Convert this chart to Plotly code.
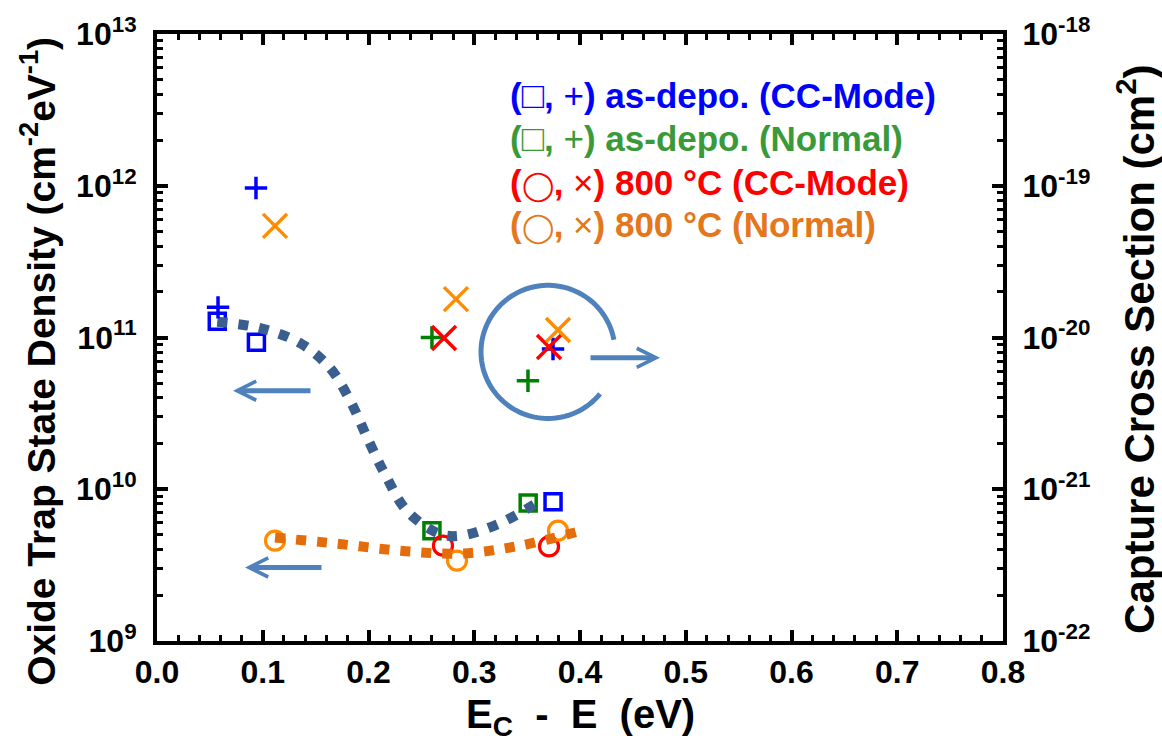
import numpy as np
import plotly.graph_objects as go

# ---------------- data ----------------
# Oxide trap state density (left axis, cm^-2 eV^-1)
sq_cc_x = [0.057, 0.094, 0.3745]
sq_cc_y = [1.28e11, 9.3e10, 8.26e9]
sq_nm_x = [0.260, 0.351]
sq_nm_y = [5.33e9, 8.13e9]
ci_cc_x = [0.2704, 0.3707]
ci_cc_y = [4.25e9, 4.2e9]
ci_nm_x = [0.1116, 0.2837, 0.3792]
ci_nm_y = [4.58e9, 3.39e9, 5.33e9]

# Capture cross section (right axis, cm^2)
pl_cc_x = [0.0577, 0.0936, 0.3745]
pl_cc_y = [1.58e-20, 9.66e-20, 8.4e-21]
pl_nm_x = [0.260, 0.3508]
pl_nm_y = [1.0e-20, 5.19e-21]
xx_cc_x = [0.2714, 0.3707]
xx_cc_y = [9.93e-21, 8.67e-21]
xx_nm_x = [0.1116, 0.2827, 0.3792]
xx_nm_y = [5.44e-20, 1.79e-20, 1.12e-20]

# Guide-to-the-eye dotted curves (left axis)
fit_asdepo_x = [0.057, 0.0983, 0.1352, 0.1636, 0.1835, 0.1995, 0.2165, 0.2364, 0.2667, 0.2865, 0.3234, 0.3600]
fit_asdepo_y = [1.27e11, 1.15e11, 9.2e10, 6.3e10, 3.73e10, 2.13e10, 1.22e10, 7.2e9, 5.1e9, 4.94e9, 5.93e9, 8.2e9]
fit_800_x = [0.1116, 0.1702, 0.2288, 0.2865, 0.3433, 0.4047]
fit_800_y = [4.8e9, 4.38e9, 3.94e9, 3.77e9, 4.25e9, 5.41e9]

x_range = [0.0, 0.8]
y_exps = [9, 10, 11, 12, 13]
y2_exps = [-22, -21, -20, -19, -18]
y_ticktext = [f"10<sup>{e}</sup>" for e in y_exps]
y2_ticktext = [f"10<sup>{e}</sup>" for e in y2_exps]

SQ = '<span style="font-size:37px">□</span>'
CI = '<span style="font-size:29px">◯</span>'
legend_rows = [
    ("<b>(</b>" + SQ + "<b>, </b>+<b>) as-depo. (CC-Mode)</b>", "#0000FF"),
    ("<b>(</b>" + SQ + "<b>, </b>+<b>) as-depo. (Normal)</b>", "#3A9A3A"),
    ("<b>(</b>" + CI + "<b>, </b>×<b>) 800 °C (CC-Mode)</b>", "#FF0000"),
    ("<b>(</b>" + CI + "<b>, </b>×<b>) 800 °C (Normal)</b>", "#E4761C"),
]

# ---------------- styling ----------------
BLUE, GREEN, RED, ORANGE = "#0000FF", "#008000", "#FF0000", "#FF8C00"
FIT_BLUE, FIT_ORANGE = "#3A5F8F", "#E46C0A"
ARROW = "#4F81BD"
FONT = "Liberation Sans, Arial, sans-serif"

W, H = 1162, 755
L, R, T, B = 157, 159, 30, 114
PW, PH = W - L - R, H - T - B


def px2paper(px, py):
    return (px - L) / PW, (H - B - py) / PH


fig = go.Figure()


def mk(x, y, sym, size, color, lw, yaxis="y"):
    fig.add_trace(go.Scatter(
        x=x, y=y, mode="markers", yaxis=yaxis, showlegend=False,
        marker=dict(symbol=sym, size=size, color=color,
                    line=dict(color=color, width=lw))))


mk(sq_cc_x, sq_cc_y, "square-open", 16, BLUE, 3.5)
mk(sq_nm_x, sq_nm_y, "square-open", 16, GREEN, 3.5)
mk(ci_cc_x, ci_cc_y, "circle-open", 19, RED, 3.2)
mk(ci_nm_x, ci_nm_y, "circle-open", 19, ORANGE, 3.2)

fig.add_trace(go.Scatter(x=fit_asdepo_x, y=fit_asdepo_y, mode="lines", showlegend=False,
                         line=dict(color=FIT_BLUE, width=10, dash="10px,11px", shape="spline", smoothing=1.0)))
fig.add_trace(go.Scatter(x=fit_800_x, y=fit_800_y, mode="lines", showlegend=False,
                         line=dict(color=FIT_ORANGE, width=10, dash="10px,11px", shape="spline", smoothing=1.0)))

mk(pl_cc_x, pl_cc_y, "cross-thin-open", 16, BLUE, 3.5, "y2")
mk(pl_nm_x, pl_nm_y, "cross-thin-open", 16, GREEN, 3.5, "y2")
mk(xx_cc_x, xx_cc_y, "x-thin-open", 24, RED, 3.5, "y2")
mk(xx_nm_x, xx_nm_y, "x-thin-open", 24, ORANGE, 3.5, "y2")

tickfont = dict(family=FONT, size=32, color="black", weight="bold")
common = dict(showgrid=False, zeroline=False, showline=True, linecolor="black", linewidth=4,
              ticks="inside", ticklen=11, tickwidth=3.5, tickcolor="black", tickfont=tickfont)


def minor_vals(exps):
    return [k * 10.0 ** e for e in exps[:-1] for k in range(2, 10)]


fig.update_layout(
    width=W, height=H, margin=dict(l=L, r=R, t=T, b=B),
    plot_bgcolor="white", paper_bgcolor="white",
    xaxis=dict(range=x_range, dtick=0.1, tickformat=".1f", mirror="ticks",
               minor=dict(ticks="inside", ticklen=6, tickwidth=3, dtick=0.02, tickcolor="black"),
               ticklabelstandoff=0, **common),
    yaxis=dict(type="log", range=[y_exps[0], y_exps[-1]], tickmode="array",
               tickvals=[10.0 ** e for e in y_exps], ticktext=y_ticktext,
               minor=dict(ticks="inside", ticklen=6, tickwidth=3, tickcolor="black",
                          tickmode="array", tickvals=minor_vals(y_exps)),
               ticklabelstandoff=10, **common),
    yaxis2=dict(type="log", range=[y2_exps[0], y2_exps[-1]], tickmode="array",
                tickvals=[10.0 ** e for e in y2_exps], ticktext=y2_ticktext,
                overlaying="y", side="right",
                minor=dict(ticks="inside", ticklen=6, tickwidth=3, tickcolor="black",
                           tickmode="array", tickvals=minor_vals(y2_exps)),
                ticklabelstandoff=9, **common),
)

ann = []
ann.append(dict(text="<b>Oxide Trap State Density (cm<sup>-2</sup>eV<sup>-1</sup>)</b>",
                x=px2paper(38, 0)[0], y=px2paper(0, 360)[1], xref="paper", yref="paper",
                textangle=-90, showarrow=False, font=dict(family=FONT, size=39, color="black"),
                xanchor="center", yanchor="middle"))
ann.append(dict(text="<b>Capture Cross Section (cm<sup>2</sup>)</b>",
                x=px2paper(1136, 0)[0], y=px2paper(0, 347)[1], xref="paper", yref="paper",
                textangle=-90, showarrow=False, font=dict(family=FONT, size=42, color="black"),
                xanchor="center", yanchor="middle"))
ann.append(dict(text="<b>E<sub>C</sub>\u00a0\u00a0-\u00a0\u00a0E\u00a0\u00a0(eV)</b>",
                x=px2paper(580, 0)[0], y=px2paper(0, 718)[1], xref="paper", yref="paper",
                showarrow=False, font=dict(family=FONT, size=40, color="black"),
                xanchor="center", yanchor="middle"))

# legend text block
for i, (txt, col) in enumerate(legend_rows):
    cy = [92, 135, 180, 222][i]
    ann.append(dict(text=txt, x=px2paper(508, 0)[0], y=px2paper(0, cy)[1], xref="paper", yref="paper",
                    showarrow=False, xanchor="left", yanchor="middle",
                    font=dict(family=FONT, size=35, color=col)))

# arrows
for (tx, ty, dx) in [(233, 389, 79), (245, 567, 78), (660, 356, -71)]:
    px, py = px2paper(tx, ty)
    ann.append(dict(x=px, y=py, xref="paper", yref="paper", ax=dx, ay=0, text="",
                    showarrow=True, arrowhead=5, arrowsize=0.75, arrowwidth=5, arrowcolor=ARROW))
fig.update_layout(annotations=ann)

# open circle (arc) around the cross-section points
cx, cy, rr = 548, 350, 67
ang = np.radians(np.linspace(10.5, 321, 120))
pts = [px2paper(cx + rr * np.cos(a), cy - rr * np.sin(a)) for a in ang]
path = "M " + " L ".join(f"{p[0]:.5f},{p[1]:.5f}" for p in pts)
fig.add_shape(type="path", path=path, xref="paper", yref="paper",
              line=dict(color=ARROW, width=5))

fig.write_html("out.html")
